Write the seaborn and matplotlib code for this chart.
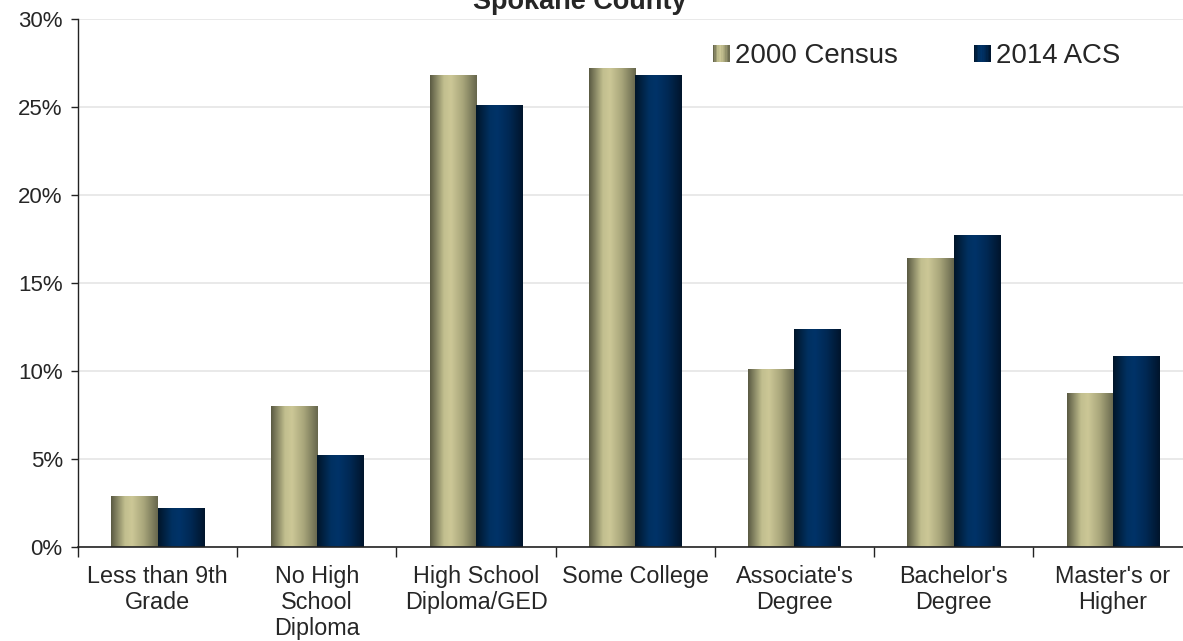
import numpy as np
import pandas as pd
import matplotlib
matplotlib.use("Agg")
import matplotlib.pyplot as plt
from matplotlib.colors import LinearSegmentedColormap
from matplotlib.legend_handler import HandlerBase
from matplotlib.patches import Rectangle, Patch
from matplotlib.ticker import FuncFormatter, FixedLocator
import seaborn as sns

# ---- data -------------------------------------------------------------
categories = [
    "Less than 9th\nGrade",
    "No High\nSchool\nDiploma",
    "High School\nDiploma/GED",
    "Some College",
    "Associate's\nDegree",
    "Bachelor's\nDegree",
    "Master's or\nHigher",
]
series_names = ["2000 Census", "2014 ACS"]
census_2000 = [2.9, 8.0, 26.8, 27.2, 10.1, 16.4, 8.75]
acs_2014 = [2.2, 5.2, 25.1, 26.8, 12.4, 17.7, 10.85]
y_ticks = [0, 5, 10, 15, 20, 25, 30]
title = "Spokane County"

df = pd.DataFrame({
    "category": categories * 2,
    "series": [series_names[0]] * len(categories) + [series_names[1]] * len(categories),
    "value": census_2000 + acs_2014,
})

# ---- styling ----------------------------------------------------------
sns.set_theme(style="white")
plt.rcParams["font.family"] = ["Liberation Sans", "DejaVu Sans"]

# cylinder-like horizontal shading for each series
cmaps = {
    series_names[0]: LinearSegmentedColormap.from_list("khaki", [
        (0.00, (0.35, 0.35, 0.26)),
        (0.30, (0.76, 0.75, 0.56)),
        (0.45, (0.80, 0.78, 0.59)),
        (0.70, (0.66, 0.65, 0.48)),
        (1.00, (0.40, 0.40, 0.30)),
    ]),
    series_names[1]: LinearSegmentedColormap.from_list("navy", [
        (0.00, (0.00, 0.08, 0.16)),
        (0.30, (0.00, 0.19, 0.38)),
        (0.45, (0.00, 0.20, 0.41)),
        (0.70, (0.00, 0.16, 0.33)),
        (1.00, (0.00, 0.08, 0.17)),
    ]),
}
mid_colors = {k: cm(0.4) for k, cm in cmaps.items()}

W, H, DPI = 1183, 641, 100
fig = plt.figure(figsize=(W / DPI, H / DPI), dpi=DPI)
ax = fig.add_axes([78 / W, 1 - 547 / H, (1192.4 - 78) / W, (547 - 19) / H])

sns.barplot(
    data=df, x="category", y="value", hue="series",
    order=categories, hue_order=series_names,
    palette=mid_colors, width=0.58, dodge=True, gap=0,
    saturation=1, errorbar=None, legend=False, ax=ax,
)

# replace flat fills with the horizontal gradient, clipped to each bar
grad = np.linspace(0, 1, 256).reshape(1, -1)
n = len(categories)
for i, patch in enumerate(ax.patches[: 2 * n]):
    name = series_names[i // n]
    x, y0 = patch.get_x(), patch.get_y()
    w, h = patch.get_width(), patch.get_height()
    im = ax.imshow(grad, cmap=cmaps[name], aspect="auto",
                   extent=[x, x + w, y0, y0 + h], zorder=2,
                   interpolation="bilinear")
    im.set_clip_path(patch)
    patch.set_facecolor("none")
    patch.set_edgecolor("none")

ax.set_xlim(-0.5, n - 0.5)
ax.set_ylim(0, 30)

# axes, ticks and grid
ax.set_axisbelow(True)
ax.yaxis.grid(True, color="#e3e3e3", linewidth=1.1)
ax.xaxis.grid(False)
for side in ("top", "right"):
    ax.spines[side].set_visible(False)
ax.spines["left"].set_color("#222222")
ax.spines["bottom"].set_color("#222222")
ax.spines["left"].set_linewidth(1.0)
ax.spines["bottom"].set_linewidth(1.2)

ax.yaxis.set_major_locator(FixedLocator(y_ticks))
ax.yaxis.set_major_formatter(FuncFormatter(lambda v, _: f"{v:.0f}%"))
ax.tick_params(axis="y", which="major", left=True, length=5, width=1,
               color="#222222", labelsize=16, pad=6, direction="out")

ax.set_xticks(range(n))
ax.set_xticklabels(categories, fontsize=16.8, linespacing=1.17)
ax.xaxis.set_minor_locator(FixedLocator(np.arange(-0.5, n, 1.0)))
ax.tick_params(axis="x", which="major", bottom=False, length=0, pad=13)
ax.tick_params(axis="x", which="minor", bottom=True, length=7, width=1,
               color="#222222", direction="out")
ax.set_xlabel("")
ax.set_ylabel("")

fig.text(579.5 / W, 1 - 9 / H, title, ha="center", va="baseline",
         fontsize=19.5, fontweight="bold")


# legend with shaded square handles
class GradientHandler(HandlerBase):
    def __init__(self, cmap):
        super().__init__()
        self.cmap = cmap

    def create_artists(self, legend, orig_handle, xdescent, ydescent,
                       width, height, fontsize, trans):
        side = min(width, height)
        x0 = -xdescent + (width - side) / 2
        y0 = -ydescent + (height - side) / 2
        steps = 12
        arts = []
        for k in range(steps):
            r = Rectangle((x0 + side * k / steps, y0), side / steps + 0.3, side,
                          facecolor=self.cmap((k + 0.5) / steps),
                          edgecolor="none", transform=trans)
            arts.append(r)
        return arts


handles = [Patch(label=s) for s in series_names]
fig.legend(
    handles=handles, labels=series_names, ncol=2, frameon=False,
    loc="center left", bbox_to_anchor=(713 / W, 1 - 56 / H),
    fontsize=19.9, handlelength=0.6, handleheight=0.6,
    handletextpad=0.2, columnspacing=2.75, borderpad=0, borderaxespad=0,
    handler_map={h: GradientHandler(cmaps[s]) for h, s in zip(handles, series_names)},
)

fig.savefig("out.png", dpi=DPI)
